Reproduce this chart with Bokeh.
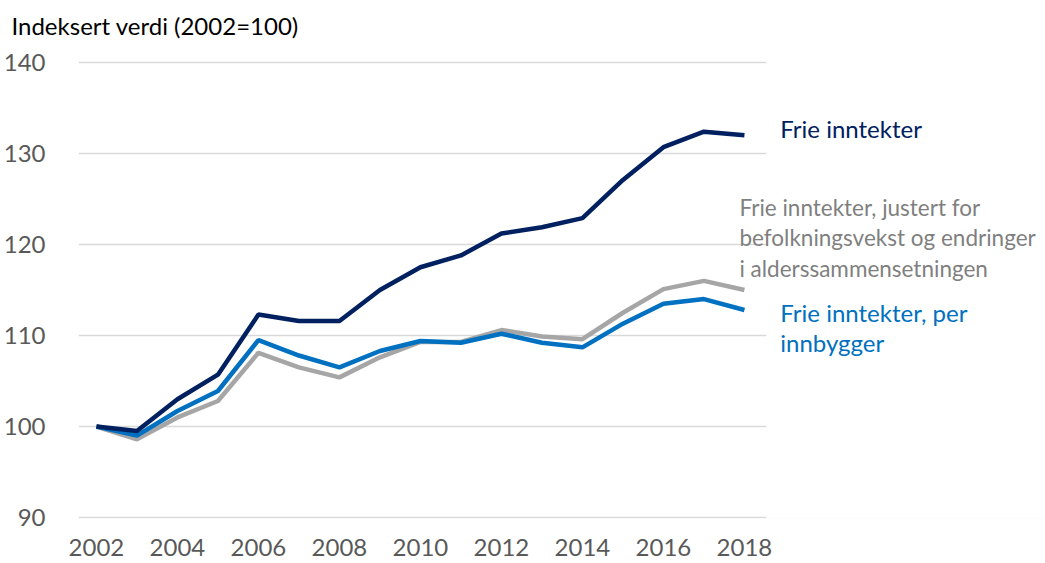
from bokeh.plotting import figure
from bokeh.models import Range1d, Label, FixedTicker, BoxAnnotation
from bokeh.embed import file_html
from bokeh.resources import INLINE

years = list(range(2002, 2019))
frie = [100, 99.5, 103, 105.7, 112.3, 111.6, 111.6, 115, 117.5, 118.8, 121.2, 121.9, 122.9, 127.1, 130.7, 132.4, 132]
justert = [100, 98.6, 101, 102.8, 108.1, 106.5, 105.4, 107.6, 109.3, 109.3, 110.6, 109.9, 109.6, 112.5, 115.1, 116, 115]
per_innb = [100, 99, 101.7, 103.9, 109.5, 107.8, 106.5, 108.3, 109.4, 109.2, 110.2, 109.2, 108.7, 111.3, 113.5, 114, 112.8]
x_ticks = [2002, 2004, 2006, 2008, 2010, 2012, 2014, 2016, 2018]
y_ticks = [90, 100, 110, 120, 130, 140]
title_text = "Indeksert verdi (2002=100)"
label_frie = ["Frie inntekter"]
label_justert = ["Frie inntekter, justert for", "befolkningsvekst og endringer", "i alderssammensetningen"]
label_per = ["Frie inntekter, per", "innbygger"]

NAVY = "#002060"
BLUE = "#0070C0"
GRAY = "#A6A6A6"
FONT = "Lato"
FS = "24px"

GRID_END = 2018.54  # where the horizontal gridlines stop

p = figure(width=1045, height=563, output_backend="svg", toolbar_location=None,
           x_range=Range1d(2001.557, 2025.434), y_range=Range1d(89.89, 141.87),
           min_border_left=75, min_border_right=0, min_border_top=45, min_border_bottom=45)
p.outline_line_color = None
p.background_fill_color = "white"
p.border_fill_color = "white"

p.title.text = title_text
p.title.align = "left"
p.title.offset = -67
p.title.text_font = FONT
p.title.text_font_size = FS
p.title.text_font_style = "normal"
p.title.text_color = "#000000"
p.title.standoff = 11

p.xgrid.grid_line_color = None
p.ygrid.grid_line_color = "#D9D9D9"
p.ygrid.grid_line_width = 1.5
p.ygrid.ticker = FixedTicker(ticks=y_ticks)
# gridlines end just right of the last year, as in the original
p.add_layout(BoxAnnotation(left=GRID_END, fill_color="white", fill_alpha=1.0,
                           line_color=None, level="underlay"))

for ax in (p.xaxis, p.yaxis):
    ax.axis_line_color = None
    ax.major_tick_line_color = None
    ax.minor_tick_line_color = None
    ax.major_label_text_font = FONT
    ax.major_label_text_font_size = FS
    ax.major_label_text_color = "#595959"
p.xaxis.ticker = FixedTicker(ticks=x_ticks)
p.yaxis.ticker = FixedTicker(ticks=y_ticks)
p.xaxis.major_label_standoff = 14
p.yaxis.major_label_standoff = 27

p.line(years, justert, line_color=GRAY, line_width=4.5)
p.line(years, per_innb, line_color=BLUE, line_width=4.5)
p.line(years, frie, line_color=NAVY, line_width=4.5)

def add_lines(lines, x, y0, color, fs, step):
    for i, t in enumerate(lines):
        p.add_layout(Label(x=x, y=y0 - i * step, text=t, text_font=FONT, text_font_size=fs,
                           text_color=color, text_baseline="middle", text_align="left"))

add_lines(label_frie, 2018.886, 132.75, NAVY, "24px", 3.3)
add_lines(label_justert, 2017.877, 124.07, "#7F7F7F", "22.5px", 3.35)
add_lines(label_per, 2018.886, 112.53, BLUE, "24px", 3.3)

open("out.html", "w").write(file_html(p, INLINE))
